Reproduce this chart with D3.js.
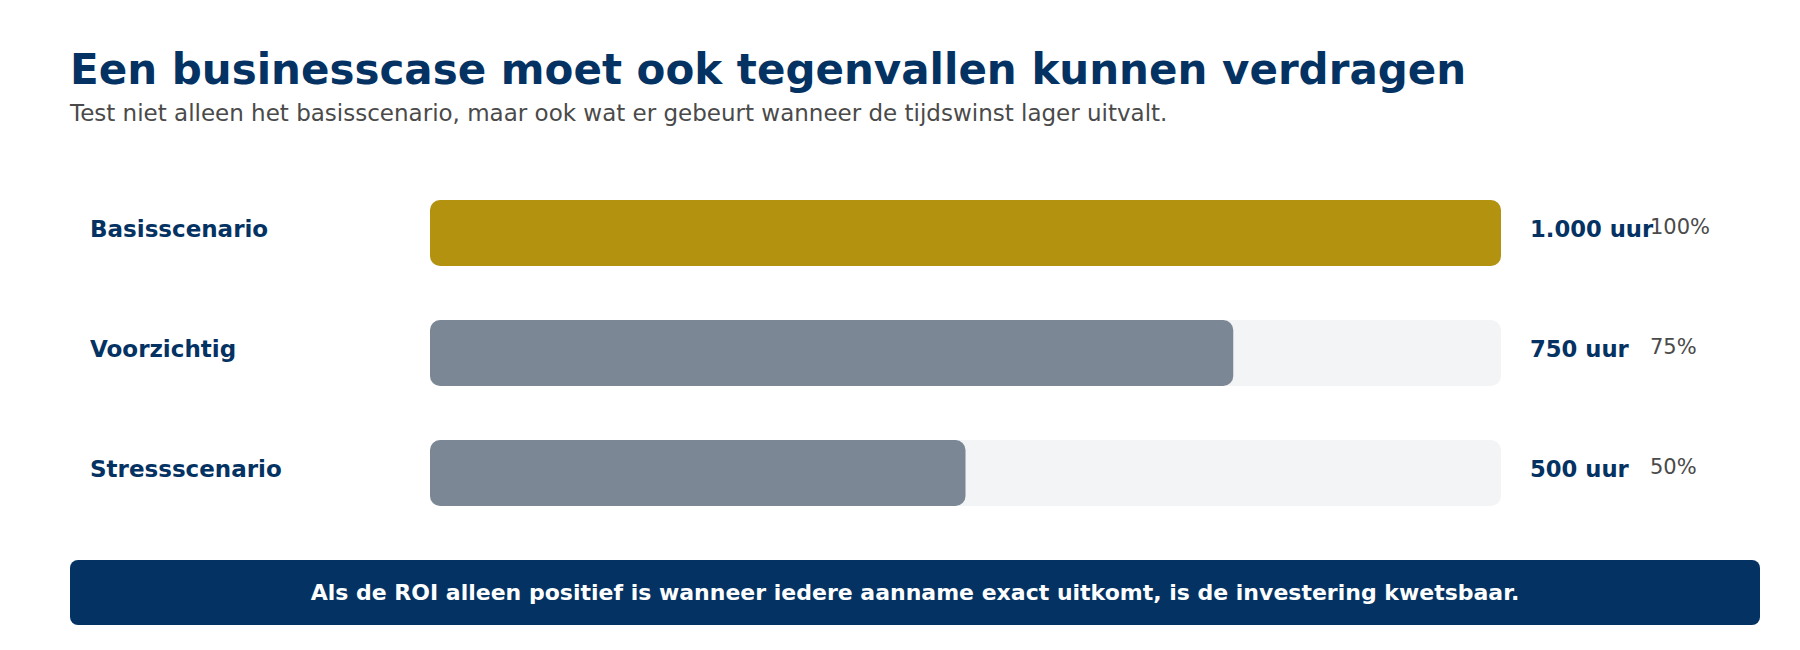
<!DOCTYPE html>
<html><head><meta charset="utf-8">
<script src="https://cdn.jsdelivr.net/npm/d3@7"></script>
<style>html,body{margin:0;padding:0;background:#fff;}svg{display:block;font-family:"DejaVu Sans",sans-serif;}</style>
</head><body>
<svg id="c" width="1800" height="650"></svg>
<script>
const categories = ["Basisscenario", "Voorzichtig", "Stressscenario"];
const hours = [1000, 750, 500];
const valueLabels = ["1.000 uur", "750 uur", "500 uur"];
const pctLabels = ["100%", "75%", "50%"];
const barColors = ["#b39210", "#7b8794", "#7b8794"];
const title = "Een businesscase moet ook tegenvallen kunnen verdragen";
const subtitle = "Test niet alleen het basisscenario, maar ook wat er gebeurt wanneer de tijdswinst lager uitvalt.";
const footer = "Als de ROI alleen positief is wanneer iedere aanname exact uitkomt, is de investering kwetsbaar.";

const navy = "#033263";
const svg = d3.select("#c");

svg.append("text").attr("x", 70).attr("y", 84).attr("fill", navy)
  .attr("font-size", 42).attr("font-weight", "bold").text(title);
svg.append("text").attr("x", 70).attr("y", 121).attr("fill", "#4a4a4a")
  .attr("font-size", 23).text(subtitle);

const x = d3.scaleLinear().domain([0, 1000]).range([430, 1501]);
const y = d3.scalePoint().domain(categories).range([200, 440]);
const bh = 66;

const rows = svg.selectAll("g.row").data(categories).join("g").attr("class", "row");

rows.append("rect").attr("x", x(0)).attr("y", d => y(d))
  .attr("width", x(1000) - x(0)).attr("height", bh).attr("rx", 10)
  .attr("fill", "#f3f4f6");
rows.append("rect").attr("x", x(0)).attr("y", d => y(d))
  .attr("width", (d, i) => x(hours[i]) - x(0)).attr("height", bh).attr("rx", 10)
  .attr("fill", (d, i) => barColors[i]);

rows.append("text").attr("x", 90).attr("y", d => y(d) + 37)
  .attr("fill", navy).attr("font-size", 23).attr("font-weight", "bold").text(d => d);
rows.append("text").attr("x", 1530).attr("y", d => y(d) + 37)
  .attr("fill", navy).attr("font-size", 22.7).attr("font-weight", "bold").text((d, i) => valueLabels[i]);
rows.append("text").attr("x", 1650).attr("y", d => y(d) + 33.5)
  .attr("fill", "#4a4a4a").attr("font-size", 21).text((d, i) => pctLabels[i]);

svg.append("rect").attr("x", 70).attr("y", 560).attr("width", 1690).attr("height", 65)
  .attr("rx", 8).attr("fill", navy);
svg.append("text").attr("x", 915).attr("y", 600).attr("text-anchor", "middle")
  .attr("fill", "#fff").attr("font-size", 22).attr("font-weight", "bold").text(footer);
</script>
</body></html>
